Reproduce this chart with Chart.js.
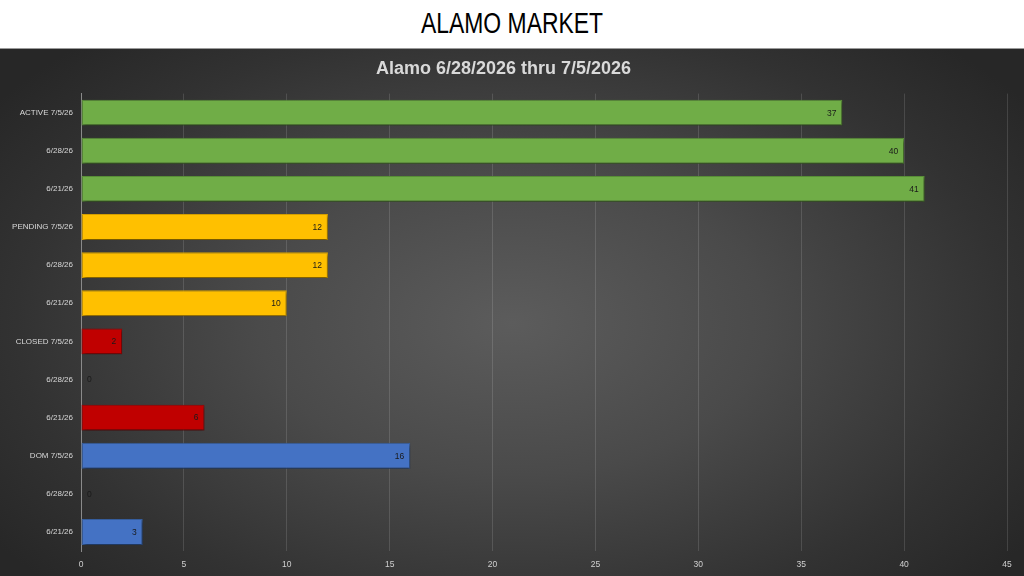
<!DOCTYPE html>
<html>
<head>
<meta charset="utf-8">
<script src="https://cdn.jsdelivr.net/npm/chart.js@4"></script>
<style>
  html, body { margin:0; padding:0; width:1024px; height:576px; overflow:hidden; background:#fff; }
  #top { position:absolute; left:0; top:0; width:1024px; height:47px; background:#fff; }
  #top h1 { margin:0; position:absolute; left:0; right:0; top:7px; text-align:center;
    font-family:"Liberation Sans",sans-serif; font-weight:normal; font-size:29px; color:#000;
    transform: scaleX(0.79); transform-origin: 50% 50%; }
  #panel { position:absolute; left:0; top:48px; width:1024px; height:528px;
    border-top:1px solid #9a9a9a; box-sizing:border-box;
    background: radial-gradient(ellipse 62% 72% at 50% 52%, #5c5c5c 0%, #4a4a4a 40%, #323232 78%, #272727 100%); }
  #wrap { position:absolute; left:0; top:0; width:1024px; height:527px; }
</style>
</head>
<body>
<div id="top"><h1>ALAMO MARKET</h1></div>
<div id="panel"><div id="wrap"><canvas id="c"></canvas></div></div>
<script>
const chartTitle = "Alamo 6/28/2026 thru 7/5/2026";
const categories = ["ACTIVE 7/5/26","6/28/26","6/21/26","PENDING 7/5/26","6/28/26","6/21/26","CLOSED 7/5/26","6/28/26","6/21/26","DOM 7/5/26","6/28/26","6/21/26"];
const values = [37, 40, 41, 12, 12, 10, 2, 0, 6, 16, 0, 3];
const groupColors = ["#70ad47", "#ffc000", "#c00000", "#4472c4"];
const groupBorders = ["#5a8f38", "#d9a300", "#a00000", "#365f9f"];
const xTicks = [0,5,10,15,20,25,30,35,40,45];

const barColors = values.map((v,i) => groupColors[Math.floor(i/3)]);
const barBorders = values.map((v,i) => groupBorders[Math.floor(i/3)]);

const FONT = '"Liberation Sans",sans-serif';

const shadowPlugin = {
  id: 'shadow',
  beforeDatasetsDraw(chart) {
    const ctx = chart.ctx;
    ctx.save();
    ctx.shadowColor = 'rgba(0,0,0,0.55)';
    ctx.shadowBlur = 3;
    ctx.shadowOffsetX = 1;
    ctx.shadowOffsetY = 2;
  },
  afterDatasetsDraw(chart) {
    chart.ctx.restore();
    const ctx = chart.ctx;
    const meta = chart.getDatasetMeta(0);
    ctx.save();
    ctx.font = '8.5px ' + FONT;
    ctx.fillStyle = '#1a1a1a';
    ctx.textBaseline = 'middle';
    meta.data.forEach((bar, i) => {
      const v = values[i];
      if (v > 0) {
        ctx.textAlign = 'right';
        ctx.fillText(String(v), bar.x - 6, bar.y + 0.5);
      } else {
        ctx.textAlign = 'left';
        ctx.fillText(String(v), bar.base + 6, bar.y + 0.5);
      }
    });
    ctx.restore();
  }
};

new Chart(document.getElementById('c'), {
  type: 'bar',
  data: {
    labels: categories,
    datasets: [{
      data: values,
      backgroundColor: barColors,
      borderColor: barBorders,
      borderWidth: 1,
      borderSkipped: false,
      barPercentage: 0.68,
      categoryPercentage: 1.0
    }]
  },
  options: {
    indexAxis: 'y',
    responsive: true,
    maintainAspectRatio: false,
    animation: false,
    layout: { padding: { left: 0, right: 17, top: 0, bottom: 0 } },
    plugins: {
      legend: { display: false },
      tooltip: { enabled: false },
      title: {
        display: true,
        text: chartTitle,
        color: '#d9d9d9',
        font: { family: FONT, size: 18, weight: 'bold' },
        padding: { top: 9, bottom: 14 }
      }
    },
    scales: {
      x: {
        min: 0, max: 45,
        afterBuildTicks(scale) { scale.ticks = xTicks.map(v => ({ value: v })); },
        grid: { color: 'rgba(255,255,255,0.13)', drawTicks: false, lineWidth: 1 },
        border: { display: false },
        ticks: { color: '#d0d0d0', padding: 9, font: { family: FONT, size: 8.5 } },
        afterFit(scale) { scale.height = 25; }
      },
      y: {
        grid: { display: false, drawTicks: false },
        border: { display: true, color: '#8a8a8a', width: 1 },
        ticks: { color: '#d9d9d9', padding: 8, font: { family: FONT, size: 8 } },
        afterFit(scale) { scale.width = 81; }
      }
    }
  },
  plugins: [shadowPlugin]
});
</script>
</body>
</html>
